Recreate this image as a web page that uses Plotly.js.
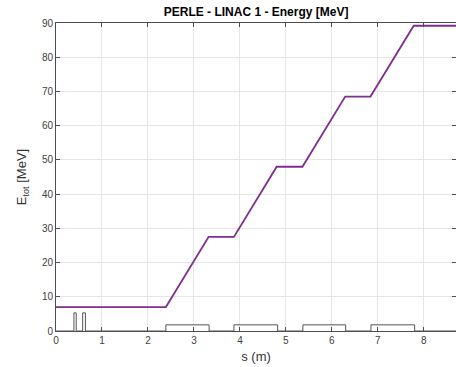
<!DOCTYPE html>
<html>
<head>
<meta charset="utf-8">
<script src="https://cdn.plot.ly/plotly-3.0.1.min.js"></script>
<style>html,body{margin:0;padding:0;background:#fff;}#plot{width:456px;height:367px;}</style>
</head>
<body>
<div id="plot"></div>
<script>
// Beam energy along LINAC 1
const sPos = [0, 2.39, 3.32, 3.87, 4.80, 5.36, 6.29, 6.84, 7.78, 8.7];
const energy = [7, 7, 27.5, 27.5, 48, 48, 68.5, 68.5, 89.2, 89.2];

// Lattice elements (start, end, height of marker box)
const elemStart = [0.39, 0.58, 2.39, 3.87, 5.37, 6.85];
const elemEnd = [0.44, 0.64, 3.33, 4.82, 6.30, 7.80];
const elemHeight = [5.3, 5.3, 1.8, 1.8, 1.8, 1.8];
const sEnd = 8.7;

const xTicks = [0, 1, 2, 3, 4, 5, 6, 7, 8];
const yTicks = [0, 10, 20, 30, 40, 50, 60, 70, 80, 90];

// build element outline along baseline
const ox = [0], oy = [0];
for (let i = 0; i < elemStart.length; i++) {
  ox.push(elemStart[i], elemStart[i], elemEnd[i], elemEnd[i]);
  oy.push(0, elemHeight[i], elemHeight[i], 0);
}
ox.push(sEnd); oy.push(0);

const traces = [
  {x: ox, y: oy, type: 'scatter', mode: 'lines', line: {color: '#555555', width: 1}, hoverinfo: 'skip'},
  {x: sPos, y: energy, type: 'scatter', mode: 'lines', line: {color: '#7E2F8E', width: 1.8}}
];

const axisCommon = {
  showline: true, linecolor: '#4d4d4d', linewidth: 1, mirror: 'ticks',
  ticks: 'inside', ticklen: 4, tickcolor: '#4d4d4d', tickwidth: 1,
  showgrid: true, gridcolor: '#e6e6e6', gridwidth: 1, zeroline: false,
  tickfont: {family: 'Liberation Sans, Arial, sans-serif', size: 10, color: '#404040'}
};

const layout = {
  width: 456, height: 367,
  margin: {l: 56, r: 0, t: 23, b: 36, pad: 0},
  paper_bgcolor: '#ffffff', plot_bgcolor: '#ffffff',
  showlegend: false,
  title: {text: '<b>PERLE - LINAC 1 - Energy [MeV]</b>', x: 0.5616, xanchor: 'center', y: 0.967, yanchor: 'middle',
          font: {family: 'Liberation Sans, Arial, sans-serif', size: 12, color: '#000'}},
  xaxis: Object.assign({}, axisCommon, {range: [0, sEnd], tickvals: xTicks, ticktext: xTicks.map(String),
          title: {text: 's (m)', standoff: 6, font: {family: 'Liberation Sans, Arial, sans-serif', size: 13, color: '#333'}}}),
  yaxis: Object.assign({}, axisCommon, {range: [0, 90], tickvals: yTicks, ticktext: yTicks.map(String),
          title: {text: 'E<sub>tot</sub> [MeV]', standoff: 12, font: {family: 'Liberation Sans, Arial, sans-serif', size: 13, color: '#333'}}})
};

Plotly.newPlot('plot', traces, layout, {displayModeBar: false, staticPlot: true});
</script>
</body>
</html>
